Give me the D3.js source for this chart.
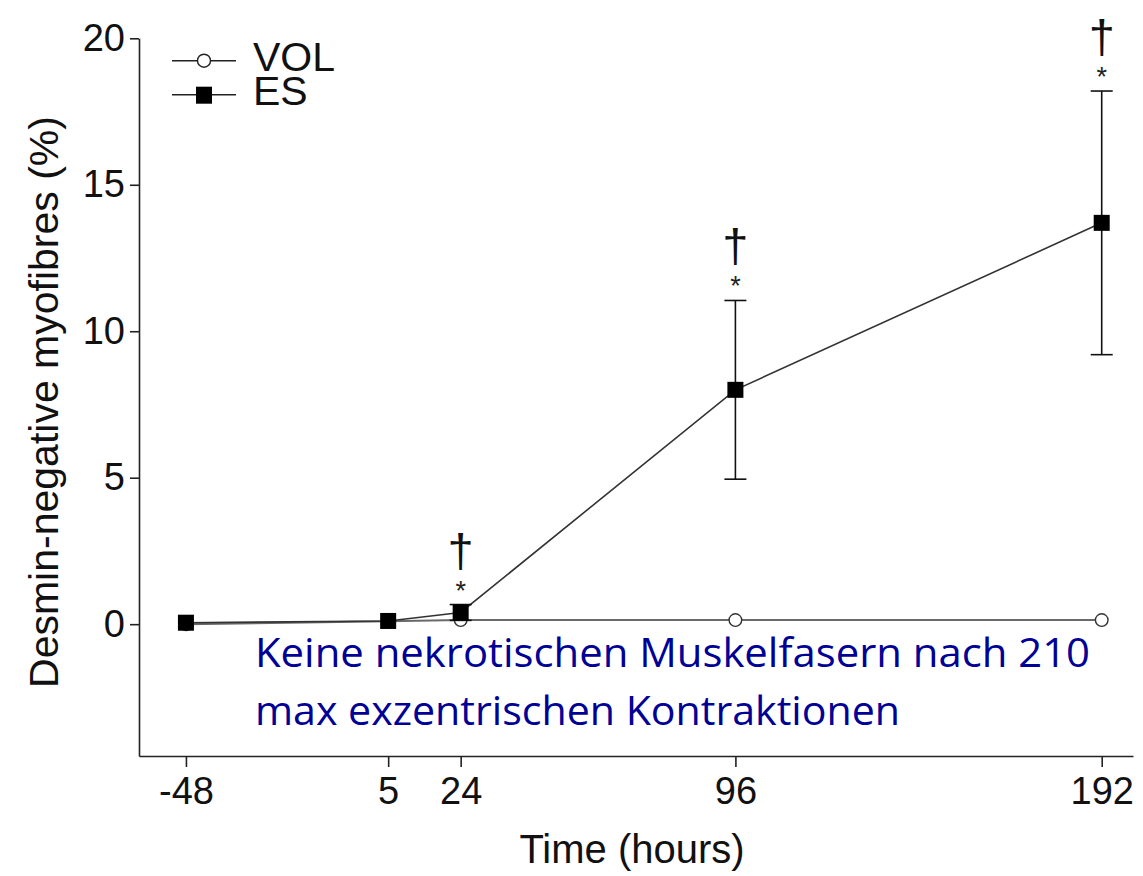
<!DOCTYPE html>
<html>
<head>
<meta charset="utf-8">
<script src="https://cdn.jsdelivr.net/npm/d3@7"></script>
<style>
  html, body { margin: 0; padding: 0; background: #ffffff; }
  svg { display: block; }
</style>
</head>
<body>
<svg id="chart" width="1143" height="876"></svg>
<script>
// Time points (hours relative to the exercise bout)
const hours = [-48, 5, 24, 96, 192];
const xTickLabels = ["-48", "5", "24", "96", "192"];
const yTicks = [0, 5, 10, 15, 20];

// Desmin-negative myofibres (%), mean and error
const volMean = [0.0, 0.1, 0.14, 0.14, 0.14];
const esMean = [0.05, 0.11, 0.4, 8.0, 13.7];
const esErr = [0, 0, 0.27, 3.05, 4.5];

// Significance markers above the ES points
const starMarked = [false, false, true, true, true];
const daggerMarked = [false, false, true, true, true];

const seriesNames = ["VOL", "ES"];
const yTitle = "Desmin-negative myofibres (%)";
const xTitle = "Time (hours)";
const noteLines = [
  "Keine nekrotischen Muskelfasern nach 210",
  "max exzentrischen Kontraktionen"
];

const svg = d3.select("#chart");
const font = "'Liberation Sans', Arial, Helvetica, sans-serif";

const x = d3.scaleLinear().domain([-60.3, 200.2]).range([139, 1133]);
const y = d3.scaleLinear().domain([-4.5, 20]).range([756, 38.3]);

// Axes
const xAxis = d3.axisBottom(x)
  .tickValues(hours)
  .tickFormat((d, i) => xTickLabels[i])
  .tickSizeInner(11).tickSizeOuter(0).tickPadding(10);
const yAxis = d3.axisLeft(y)
  .tickValues(yTicks)
  .tickSizeInner(9).tickSizeOuter(0).tickPadding(5);

const gx = svg.append("g").attr("transform", `translate(0,${y.range()[0]})`).call(xAxis);
const gy = svg.append("g").attr("transform", `translate(${x.range()[0]},0)`).call(yAxis);
[gx, gy].forEach(g => {
  g.select(".domain").attr("stroke", "#222").attr("stroke-width", 1.6);
  g.selectAll(".tick line").attr("stroke", "#222").attr("stroke-width", 1.6);
  g.selectAll(".tick text").attr("fill", "#111").style("font-family", font).style("font-size", "38px");
});

// Axis titles
svg.append("text")
  .attr("x", 632).attr("y", 863)
  .attr("text-anchor", "middle")
  .style("font-family", font).style("font-size", "40px").attr("fill", "#111")
  .text(xTitle);
svg.append("text")
  .attr("transform", "translate(58,402) rotate(-90)")
  .attr("text-anchor", "middle")
  .style("font-family", font).style("font-size", "41px").attr("fill", "#111")
  .text(yTitle);

// VOL series
const line = d3.line().x((d, i) => x(hours[i])).y(d => y(d));
svg.append("path").datum(volMean)
  .attr("d", line).attr("fill", "none")
  .attr("stroke", "#6a6a6a").attr("stroke-width", 2);
svg.selectAll(".vol").data(volMean).enter().append("circle")
  .attr("cx", (d, i) => x(hours[i])).attr("cy", d => y(d)).attr("r", 6.3)
  .attr("fill", "#fff").attr("stroke", "#333").attr("stroke-width", 1.4);

// ES series
svg.append("path").datum(esMean)
  .attr("d", line).attr("fill", "none")
  .attr("stroke", "#333").attr("stroke-width", 1.6);

const capW = 11;
const errG = svg.append("g").attr("stroke", "#111").attr("stroke-width", 1.6);
esMean.forEach((m, i) => {
  if (esErr[i] <= 0) return;
  const cx = x(hours[i]);
  const top = y(m + esErr[i]), bot = y(m - esErr[i]);
  errG.append("line").attr("x1", cx).attr("x2", cx).attr("y1", top).attr("y2", bot);
  errG.append("line").attr("x1", cx - capW).attr("x2", cx + capW).attr("y1", top).attr("y2", top);
  errG.append("line").attr("x1", cx - capW).attr("x2", cx + capW).attr("y1", bot).attr("y2", bot);
});

const sq = 16;
svg.selectAll(".es").data(esMean).enter().append("rect")
  .attr("x", (d, i) => x(hours[i]) - sq / 2).attr("y", d => y(d) - sq / 2)
  .attr("width", sq).attr("height", sq).attr("fill", "#000");

// Significance symbols
esMean.forEach((m, i) => {
  const cx = x(hours[i]);
  const top = y(m + esErr[i]);
  if (starMarked[i]) {
    svg.append("text").attr("x", cx).attr("y", top - 5)
      .attr("text-anchor", "middle")
      .style("font-family", font).style("font-size", "27px").attr("fill", "#222")
      .text("*");
  }
  if (daggerMarked[i]) {
    svg.append("text").attr("x", cx).attr("y", top - 38)
      .attr("text-anchor", "middle")
      .style("font-family", font).style("font-size", "47px").attr("fill", "#111")
      .text("\u2020");
  }
});

// Legend
const legend = svg.append("g");
[60.7, 94.7].forEach((ly, k) => {
  legend.append("line").attr("x1", 172).attr("x2", 236).attr("y1", ly).attr("y2", ly)
    .attr("stroke", "#222").attr("stroke-width", 1.6);
  if (k === 0) {
    legend.append("circle").attr("cx", 204).attr("cy", ly).attr("r", 6.5)
      .attr("fill", "#fff").attr("stroke", "#222").attr("stroke-width", 1.4);
  } else {
    legend.append("rect").attr("x", 204 - 8).attr("y", ly - 8).attr("width", 16).attr("height", 17)
      .attr("fill", "#000");
  }
  legend.append("text").attr("x", 253).attr("y", ly + 10)
    .style("font-family", font).style("font-size", "41px").attr("fill", "#111")
    .text(seriesNames[k]);
});

// Note
const noteWidths = [835, 645];
noteLines.forEach((t, i) => {
  svg.append("text").attr("x", 255).attr("y", 667 + i * 58)
    .attr("textLength", noteWidths[i]).attr("lengthAdjust", "spacingAndGlyphs")
    .style("font-family", "'Open Sans', 'Noto Sans', sans-serif").style("font-size", "40px")
    .attr("fill", "#000096")
    .text(t);
});
</script>
</body>
</html>
